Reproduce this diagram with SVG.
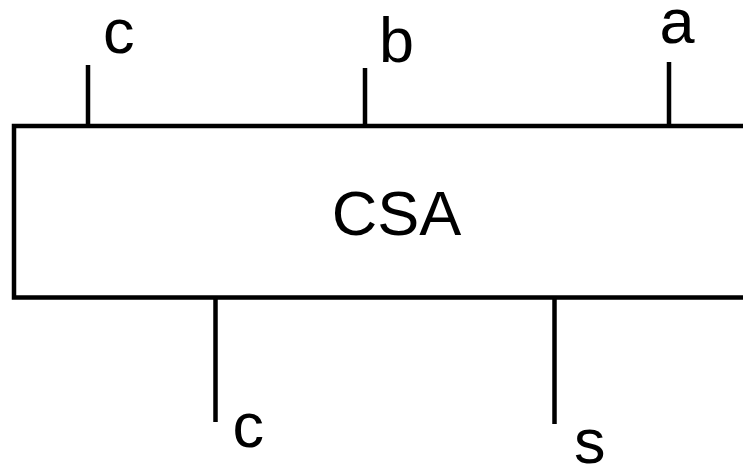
<svg xmlns="http://www.w3.org/2000/svg" width="743" height="464" viewBox="0 0 743 464">
  <style>
    .wire { stroke: #000; stroke-width: 4.5; fill: none; }
    .box { stroke: #000; stroke-width: 4.5; fill: #fff; }
    .lbl { font-family: "Liberation Sans", Arial, sans-serif; font-size: 63px; fill: #000; }
  </style>
  <rect width="743" height="464" fill="#fff"/>
  <!-- carry-save adder block (extends past the right edge) -->
  <g id="csa">
    <path class="box" d="M760 126 H14 V297.5 H760"/>
    <text class="lbl" x="396.5" y="235" text-anchor="middle" font-size="64">CSA</text>
  </g>
  <!-- input and output pins -->
  <g id="connectors">
    <line class="wire" x1="88" y1="65" x2="88" y2="126"/>
    <line class="wire" x1="365" y1="68" x2="365" y2="126"/>
    <line class="wire" x1="669" y1="62" x2="669" y2="126"/>
    <line class="wire" x1="215.5" y1="297.5" x2="215.5" y2="422"/>
    <line class="wire" x1="554.5" y1="297.5" x2="554.5" y2="424"/>
  </g>
  <g id="labels">
    <text class="lbl" x="103" y="53">c</text>
    <text class="lbl" x="379" y="62">b</text>
    <text class="lbl" x="659.5" y="43">a</text>
    <text class="lbl" x="232.5" y="447">c</text>
    <text class="lbl" x="574" y="463">s</text>
  </g>
</svg>
